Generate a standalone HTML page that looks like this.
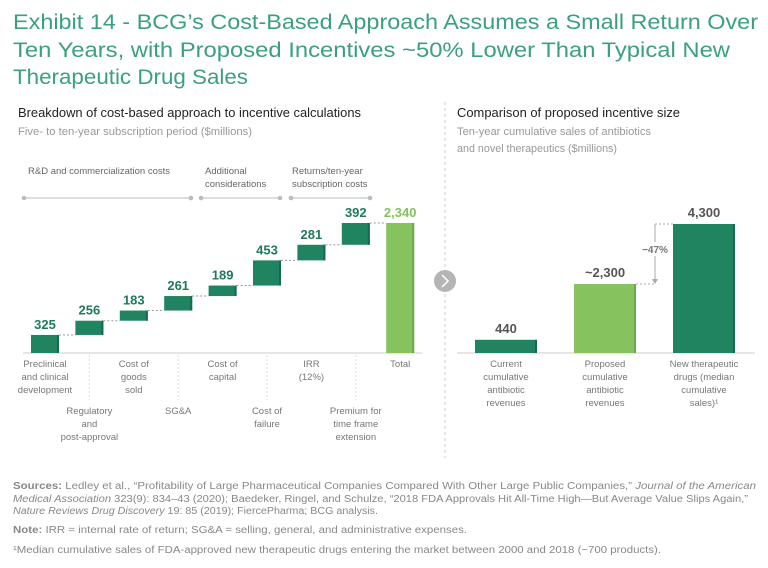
<!DOCTYPE html>
<html><head><meta charset="utf-8"><style>
html,body{margin:0;padding:0;background:#fff}
svg{display:block;font-family:"Liberation Sans",sans-serif}
</style></head><body>
<svg width="768" height="568" viewBox="0 0 768 568">
<g fill="#3aa17c" font-size="21">
<text x="13" y="29" textLength="745" lengthAdjust="spacingAndGlyphs">Exhibit 14 - BCG’s Cost-Based Approach Assumes a Small Return Over</text>
<text x="13" y="57" textLength="717" lengthAdjust="spacingAndGlyphs">Ten Years, with Proposed Incentives ~50% Lower Than Typical New</text>
<text x="13" y="84" textLength="235" lengthAdjust="spacingAndGlyphs">Therapeutic Drug Sales</text>
</g>
<text x="18" y="117" font-size="13" fill="#222" textLength="343" lengthAdjust="spacingAndGlyphs">Breakdown of cost-based approach to incentive calculations</text>
<text x="18" y="135" font-size="11" fill="#999" textLength="234" lengthAdjust="spacingAndGlyphs">Five- to ten-year subscription period ($millions)</text>
<text x="457" y="117" font-size="13" fill="#222" textLength="223" lengthAdjust="spacingAndGlyphs">Comparison of proposed incentive size</text>
<g font-size="11" fill="#999">
<text x="457" y="135" textLength="194" lengthAdjust="spacingAndGlyphs">Ten-year cumulative sales of antibiotics</text>
<text x="457" y="152" textLength="160" lengthAdjust="spacingAndGlyphs">and novel therapeutics ($millions)</text>
</g>
<line x1="445" y1="102" x2="445" y2="458" stroke="#ccc" stroke-dasharray="3,3"/>
<g>
<circle cx="445" cy="281" r="11" fill="#b5b5b5"/>
<path d="M442 275 L448 281 L442 287" stroke="#fff" stroke-width="1.5" fill="none"/>
</g>
<g font-size="9.5" fill="#666">
<text x="28" y="174">R&amp;D and commercialization costs</text>
<text x="205" y="174">Additional</text><text x="205" y="187">considerations</text>
<text x="292" y="174">Returns/ten-year</text><text x="292" y="187">subscription costs</text>
</g>
<g stroke="#bbb" fill="#bbb">
<line x1="24" y1="198" x2="191" y2="198"/><circle cx="24" cy="198" r="1.8"/><circle cx="191" cy="198" r="1.8"/>
<line x1="201" y1="198" x2="280" y2="198"/><circle cx="201" cy="198" r="1.8"/><circle cx="280" cy="198" r="1.8"/>
<line x1="291" y1="198" x2="370" y2="198"/><circle cx="291" cy="198" r="1.8"/><circle cx="370" cy="198" r="1.8"/>
</g>
<g id="left"></g>
<g id="right"></g>
<g font-size="10" fill="#888">
<text x="13" y="489" textLength="743" lengthAdjust="spacingAndGlyphs"><tspan font-weight="bold">Sources:</tspan> Ledley et al., “Profitability of Large Pharmaceutical Companies Compared With Other Large Public Companies,” <tspan font-style="italic">Journal of the American</tspan></text>
<text x="13" y="502" textLength="735" lengthAdjust="spacingAndGlyphs"><tspan font-style="italic">Medical Association</tspan> 323(9): 834–43 (2020); Baedeker, Ringel, and Schulze, “2018 FDA Approvals Hit All-Time High—But Average Value Slips Again,”</text>
<text x="13" y="514" textLength="365" lengthAdjust="spacingAndGlyphs"><tspan font-style="italic">Nature Reviews Drug Discovery</tspan> 19: 85 (2019); FiercePharma; BCG analysis.</text>
<text x="13" y="533" textLength="454" lengthAdjust="spacingAndGlyphs"><tspan font-weight="bold">Note:</tspan> IRR = internal rate of return; SG&amp;A = selling, general, and administrative expenses.</text>
<text x="13" y="553" textLength="648" lengthAdjust="spacingAndGlyphs">¹Median cumulative sales of FDA-approved new therapeutic drugs entering the market between 2000 and 2018 (~700 products).</text>
</g>
</svg>
<script>
const wfCategories = ["Preclinical and clinical development","Regulatory and post-approval","Cost of goods sold","SG&A","Cost of capital","Cost of failure","IRR (12%)","Premium for time frame extension"];
const wfValues = [325,256,183,261,189,453,281,392];
const wfTotal = 2340;
const wfLabels = [["Preclinical","and clinical","development"],["Regulatory","and","post-approval"],["Cost of","goods","sold"],["SG&A"],["Cost of","capital"],["Cost of","failure"],["IRR","(12%)"],["Premium for","time frame","extension"],["Total"]];
const cmpCategories = ["Current cumulative antibiotic revenues","Proposed cumulative antibiotic revenues","New therapeutic drugs (median cumulative sales)"];
const cmpValues = [440,2300,4300];
const cmpLabels = ["440","~2,300","4,300"];
const cmpXLabels = [["Current","cumulative","antibiotic","revenues"],["Proposed","cumulative","antibiotic","revenues"],["New therapeutic","drugs (median","cumulative","sales)¹"]];
const cmpChange = "−47%";

const NS="http://www.w3.org/2000/svg";
function mk(parent,tag,attrs,text){const e=document.createElementNS(NS,tag);for(const k in attrs)e.setAttribute(k,attrs[k]);if(text!==undefined)e.textContent=text;parent.appendChild(e);return e;}

// Left waterfall
const L=document.getElementById('left');


const base=353, lScale=130/2340;
const ly=v=>base-v*lScale;
const lx=i=>31+i*44.4;
const bw=28;
const ax=mk(L,'line',{x1:23,y1:base,x2:422,y2:base,stroke:'#ccc'});


let cum=0;
wfValues.forEach((v,i)=>{
  const y0=ly(cum), y1=ly(cum+v);
  const r=mk(L,'rect',{x:lx(i),y:y1,width:bw,height:y0-y1,fill:'#1f845f'});
  
  
  mk(L,'rect',{x:lx(i)+bw-2,y:y1,width:2,height:y0-y1,fill:'#176a4b'});
  const t=mk(L,'text',{x:lx(i)+bw/2,y:y1-6,'text-anchor':'middle','font-size':13,'font-weight':'bold',fill:'#1f7a5a'},String(v));
  
  
  cum+=v;
  const nx = i<wfValues.length-1 ? lx(i+1) : lx(8);
  mk(L,'line',{x1:lx(i)+bw,y1:y1,x2:nx,y2:y1,stroke:'#999','stroke-dasharray':'2,2'});
});
const tr=mk(L,'rect',{x:lx(8),y:ly(wfTotal),width:bw,height:base-ly(wfTotal),fill:'#86c35e'});


mk(L,'rect',{x:lx(8)+bw-2,y:ly(wfTotal),width:2,height:base-ly(wfTotal),fill:'#6fa84c'});
const tt=mk(L,'text',{x:lx(8)+bw/2,y:ly(wfTotal)-6,'text-anchor':'middle','font-size':13,'font-weight':'bold',fill:'#86c35e'},wfTotal.toLocaleString('en-US'));


wfLabels.forEach((lines,i)=>{
  const cx=lx(i)+bw/2;
  const low=(i%2===1 && i<8);
  const y0=low?414:367;
  if(i%2===1 && i<8){
    mk(L,'line',{x1:cx,y1:355,x2:cx,y2:400,stroke:'#ddd','stroke-dasharray':'2,2'});
  }
  const g=mk(L,'text',{'font-size':9.5,fill:'#777','text-anchor':'middle'});
  
  
  lines.forEach((s,j)=>mk(g,'tspan',{x:cx,y:y0+j*13},s));
});

// Right comparison
const R=document.getElementById('right');


const rScale=129/4300;
const ry=v=>base-v*rScale;
const rx=i=>475+i*99;
const rbw=62;
const rax=mk(R,'line',{x1:457,y1:base,x2:755,y2:base,stroke:'#ccc'});


const rcol=['#1f845f','#86c35e','#1f845f'];
cmpValues.forEach((v,i)=>{
  const r=mk(R,'rect',{x:rx(i),y:ry(v),width:rbw,height:base-ry(v),fill:rcol[i]});
  
  
  mk(R,'rect',{x:rx(i)+rbw-2,y:ry(v),width:2,height:base-ry(v),fill:i===1?'#6fa84c':'#176a4b'});
  const t=mk(R,'text',{x:rx(i)+rbw/2,y:ry(v)-7,'text-anchor':'middle','font-size':13,'font-weight':'bold',fill:'#555'},cmpLabels[i]);
  
  
  const g=mk(R,'text',{'font-size':9.5,fill:'#777','text-anchor':'middle'});
  
  
  cmpXLabels[i].forEach((s,j)=>mk(g,'tspan',{x:rx(i)+rbw/2,y:367+j*13},s));
});
const ann=mk(R,'g',{});


const ax2=655, yTop=ry(cmpValues[2]), yBot=ry(cmpValues[1]);
mk(ann,'line',{x1:rx(1)+rbw,y1:yBot,x2:ax2,y2:yBot,stroke:'#aaa','stroke-dasharray':'2,2'});
mk(ann,'line',{x1:ax2,y1:yTop,x2:rx(2),y2:yTop,stroke:'#aaa','stroke-dasharray':'2,2'});
mk(ann,'line',{x1:ax2,y1:yTop,x2:ax2,y2:yBot-4,stroke:'#aaa'});
mk(ann,'path',{d:`M${ax2-3} ${yBot-5} L${ax2+3} ${yBot-5} L${ax2} ${yBot} Z`,fill:'#aaa'});
mk(ann,'rect',{x:ax2-14,y:(yTop+yBot)/2-12,width:28,height:14,fill:'#fff'});
mk(ann,'text',{x:ax2,y:(yTop+yBot)/2-1,'text-anchor':'middle','font-size':10,'font-weight':'bold',fill:'#777'},cmpChange);
</script>
</body></html>
